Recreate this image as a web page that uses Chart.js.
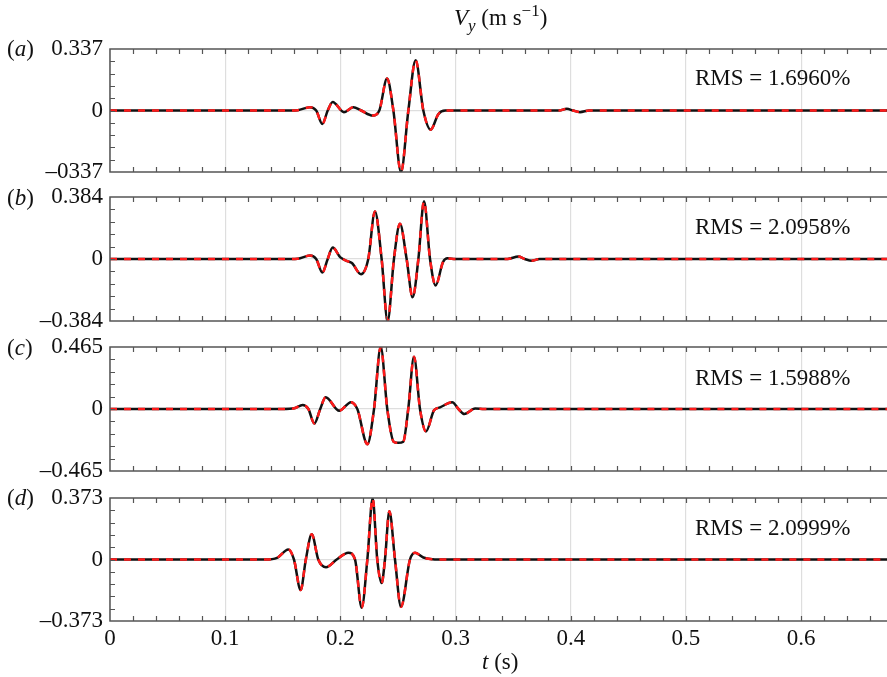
<!DOCTYPE html>
<html>
<head>
<meta charset="utf-8">
<script src="https://cdn.jsdelivr.net/npm/chart.js@4"></script>
<style>
  body { margin: 0; background: #fff; }
  #wrap { position: relative; width: 887px; height: 677px; overflow: hidden; font-family: 'Liberation Serif', serif; color: #111; }
  canvas { position: absolute; left: 0; top: 0; }
  .txt { position: absolute; font-size: 23px; line-height: 1; white-space: nowrap; }
  sub, sup { font-size: 17px; line-height: 0; }
</style>
</head>
<body>
<div id="wrap">
  <canvas id="cA" width="887" height="677"></canvas>
  <canvas id="cB" width="887" height="677"></canvas>
  <canvas id="cC" width="887" height="677"></canvas>
  <canvas id="cD" width="887" height="677"></canvas>
  <div class="txt" style="left:454px;top:6px"><i>V</i><sub><i>y</i></sub> (m s<sup>−1</sup>)</div>
  <div class="txt" style="left:482px;top:650px"><i>t</i> (s)</div>
  <div class="txt" style="left:7px;top:37px">(<i>a</i>)</div>
  <div class="txt" style="left:7px;top:186px">(<i>b</i>)</div>
  <div class="txt" style="left:7px;top:336px">(<i>c</i>)</div>
  <div class="txt" style="left:7px;top:486px">(<i>d</i>)</div>
  <div class="txt rms" style="left:695px;top:66px"></div>
  <div class="txt rms" style="left:695px;top:215px"></div>
  <div class="txt rms" style="left:695px;top:366px"></div>
  <div class="txt rms" style="left:695px;top:516px"></div>
</div>
<script>
// tiempo (s) y velocidad Vy (m/s)
const tA = [0, 0.15, 0.163, 0.1736, 0.179, 0.1843, 0.189, 0.1933, 0.2031, 0.2112, 0.218, 0.228, 0.2338, 0.2405, 0.246, 0.2526, 0.259, 0.2653, 0.272, 0.2784, 0.285, 0.291, 0.39, 0.3965, 0.402, 0.408, 0.416, 0.675];
const vA = [0, 0, 0.002, 0.018, 0, -0.074, 0, 0.046, -0.009, 0.018, 0, -0.028, 0, 0.175, 0, -0.337, 0, 0.276, 0, -0.105, -0.02, 0, 0, 0.009, 0, -0.009, 0, 0];

const tB = [0, 0.15, 0.163, 0.1736, 0.179, 0.1843, 0.189, 0.1933, 0.2, 0.206, 0.21, 0.2179, 0.2242, 0.23, 0.2358, 0.241, 0.2465, 0.2517, 0.2575, 0.2627, 0.2677, 0.2726, 0.2778, 0.2827, 0.289, 0.293, 0.3, 0.345, 0.3545, 0.36, 0.366, 0.373, 0.675];
const vB = [0, 0, 0.002, 0.021, 0, -0.084, 0, 0.071, 0.01, -0.013, -0.025, -0.094, 0, 0.294, 0, -0.384, 0, 0.218, 0, -0.237, 0, 0.357, 0, -0.164, -0.02, 0.004, 0, 0, 0.015, 0, -0.011, 0, 0];

const tC = [0, 0.15, 0.16, 0.1672, 0.1722, 0.1774, 0.1825, 0.1872, 0.199, 0.2092, 0.2147, 0.2234, 0.2292, 0.235, 0.2407, 0.2462, 0.2503, 0.2546, 0.2589, 0.2639, 0.2691, 0.2743, 0.2813, 0.2865, 0.2971, 0.3025, 0.3076, 0.317, 0.325, 0.675];
const vC = [0, 0, 0.005, 0.03, 0, -0.109, 0, 0.089, -0.013, 0.051, 0, -0.264, 0, 0.465, 0, -0.245, -0.254, -0.245, 0, 0.391, 0, -0.168, -0.01, 0.012, 0.051, 0, -0.038, 0.003, 0, 0];

const tD = [0, 0.135, 0.145, 0.1548, 0.1597, 0.1655, 0.17, 0.1751, 0.1808, 0.1875, 0.1968, 0.2069, 0.2127, 0.2185, 0.2234, 0.228, 0.232, 0.2358, 0.2387, 0.2425, 0.2474, 0.2526, 0.2604, 0.2648, 0.272, 0.28, 0.29, 0.675];
const vD = [0, 0, 0.01, 0.061, 0, -0.185, 0, 0.153, 0, -0.047, 0, 0.041, 0, -0.292, 0, 0.371, 0, -0.143, 0, 0.293, 0, -0.287, 0, 0.041, 0.012, 0.002, 0, 0];

const yMax = [0.337, 0.384, 0.465, 0.373];
const yTickLabels = [
  ['–0337', '0', '0.337'],
  ['–0.384', '0', '0.384'],
  ['–0.465', '0', '0.465'],
  ['–0.373', '0', '0.373']
];
const rmsLabels = ['RMS = 1.6960%', 'RMS = 2.0958%', 'RMS = 1.5988%', 'RMS = 2.0999%'];
const xTicks = [0, 0.1, 0.2, 0.3, 0.4, 0.5, 0.6];
const xTickLabels = ['0', '0.1', '0.2', '0.3', '0.4', '0.5', '0.6'];
const xMin = 0, xMax = 0.6745;
const xMinorStep = 0.02;

Chart.defaults.font.family = "'Liberation Serif', serif";
Chart.defaults.font.size = 23;
Chart.defaults.color = '#111';

// marco y marcas menores hacia dentro
const framePlugin = {
  id: 'frame',
  afterDraw(chart, args, opts) {
    const { ctx, chartArea: a } = chart;
    const x = chart.scales.x, y = chart.scales.y;
    ctx.save();
    ctx.strokeStyle = '#555';
    ctx.lineWidth = 1.5;
    ctx.beginPath();
    ctx.moveTo(chart.width, a.top);
    ctx.lineTo(a.left, a.top);
    ctx.lineTo(a.left, a.bottom);
    ctx.lineTo(chart.width, a.bottom);
    ctx.stroke();
    ctx.lineWidth = 1.2;
    ctx.beginPath();
    for (let k = 1; k * xMinorStep <= xMax; k++) {
      const px = Math.round(x.getPixelForValue(k * xMinorStep)) + 0.5;
      ctx.moveTo(px, a.top); ctx.lineTo(px, a.top + 5);
      ctx.moveTo(px, a.bottom); ctx.lineTo(px, a.bottom - 5);
    }
    for (let k = -4; k <= 4; k++) {
      const py = Math.round(y.getPixelForValue(k * opts.max / 5)) + 0.5;
      ctx.moveTo(a.left, py); ctx.lineTo(a.left + 5, py);
    }
    ctx.stroke();
    ctx.restore();
  }
};

function makePanel(id, t, v, idx, top, bottom, showX) {
  const max = yMax[idx];
  const pts = t.map((x, i) => ({ x: x, y: v[i] }));
  const xAxisH = showX ? 30 : 0;
  new Chart(document.getElementById(id), {
    type: 'line',
    data: {
      datasets: [
        { data: pts, borderColor: '#ff1a1a', borderWidth: 2.5, borderDash: [7, 7], pointRadius: 0, cubicInterpolationMode: 'monotone', order: 0 },
        { data: pts, borderColor: '#111', borderWidth: 2.5, pointRadius: 0, cubicInterpolationMode: 'monotone', order: 1 }
      ]
    },
    options: {
      responsive: false,
      animation: false,
      events: [],
      layout: { padding: { top: top, bottom: 677 - bottom - xAxisH, left: 0, right: 0 } },
      plugins: { legend: { display: false }, tooltip: { enabled: false }, frame: { max: max } },
      scales: {
        x: {
          type: 'linear', min: xMin, max: xMax,
          afterBuildTicks: s => { s.ticks = xTicks.map(val => ({ value: val })); },
          afterFit: s => { s.height = xAxisH; },
          border: { display: false },
          grid: { color: '#dedede', lineWidth: 1.2, drawTicks: false },
          ticks: { display: showX, padding: 4, maxRotation: 0, callback: (val, i) => xTickLabels[i] }
        },
        y: {
          type: 'linear', min: -max, max: max,
          afterBuildTicks: s => { s.ticks = [{ value: -max }, { value: 0 }, { value: max }]; },
          afterFit: s => { s.width = 110; },
          border: { display: false },
          grid: { color: c => c.tick && c.tick.value === 0 ? '#dedede' : 'rgba(0,0,0,0)', lineWidth: 1.2, drawTicks: false },
          ticks: { padding: 7, callback: (val, i) => yTickLabels[idx][i] }
        }
      }
    },
    plugins: [framePlugin]
  });
}

makePanel('cA', tA, vA, 0, 49, 172, false);
makePanel('cB', tB, vB, 1, 197, 321, false);
makePanel('cC', tC, vC, 2, 347, 471, false);
makePanel('cD', tD, vD, 3, 498, 621, true);

document.querySelectorAll('.rms').forEach((el, i) => { el.textContent = rmsLabels[i]; });
</script>
</body>
</html>
